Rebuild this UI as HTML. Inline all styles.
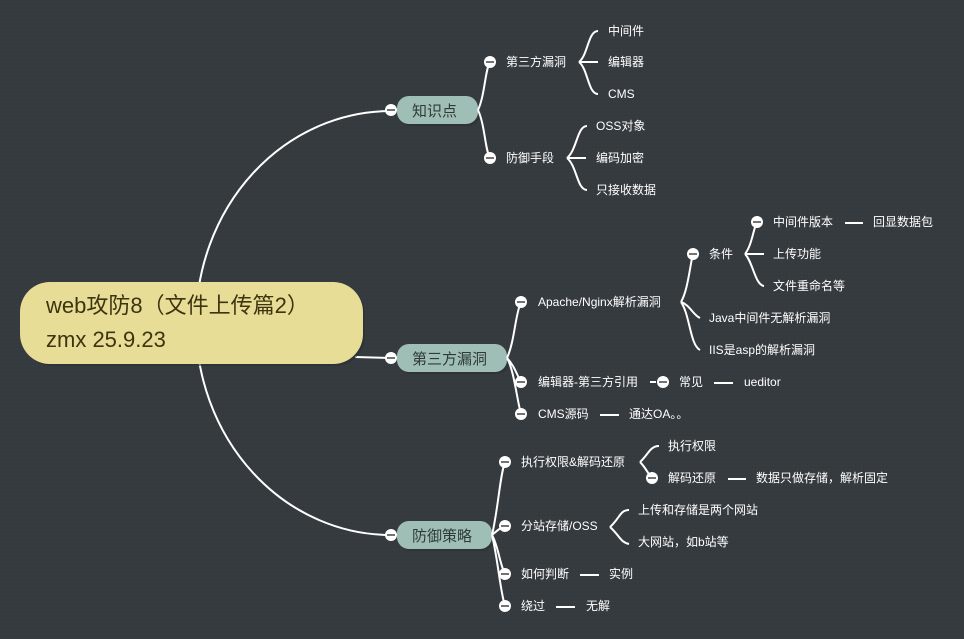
<!DOCTYPE html>
<html><head><meta charset="utf-8"><style>
html,body{margin:0;padding:0;background:#353a3f;}
svg{display:block}
text{font-family:"Liberation Sans","Noto Sans CJK SC",sans-serif;}
.t{fill:#fff;font-size:12px;}
.m{fill:#2f3a36;font-size:15px;}
.l{fill:none;stroke:#fff;stroke-width:2;}
</style></head><body>
<svg width="964" height="639" viewBox="0 0 964 639" xmlns="http://www.w3.org/2000/svg">
<defs>
<pattern id="d" width="4" height="4" patternUnits="userSpaceOnUse"><rect width="4" height="4" fill="#353a3f"/><rect x="1" y="1" width="1" height="1" fill="#3d4246"/></pattern>
<g id="c"><circle r="6" fill="#fff"/><line x1="-4" y1="0" x2="4" y2="0" stroke="#444" stroke-width="1.5"/></g>
</defs>
<rect width="964" height="639" fill="url(#d)"/>
<!-- main arc -->
<path class="l" d="M391 111 A195 212 0 0 0 391 535"/>
<path class="l" d="M355 357 L391 358" stroke-width="3"/>
<!-- root -->
<rect x="22" y="284" width="343" height="82" rx="30" fill="#2a2e30" opacity="0.6"/>
<rect x="20" y="282" width="343" height="82" rx="30" fill="#e8dd97"/>
<text x="46" y="313" font-size="22" fill="#3d3410">web攻防8（文件上传篇2）</text>
<text x="46" y="347" font-size="22" fill="#3d3410">zmx 25.9.23</text>
<!-- main nodes -->
<rect x="399" y="98" width="81" height="28" rx="12" fill="#2a2e30" opacity="0.6"/>
<rect x="397" y="96" width="81" height="28" rx="12" fill="#9fbfb6"/>
<text x="412" y="116" class="m">知识点</text>
<rect x="399" y="346" width="110" height="28" rx="12" fill="#2a2e30" opacity="0.6"/>
<rect x="397" y="344" width="110" height="28" rx="12" fill="#9fbfb6"/>
<text x="412" y="364" class="m">第三方漏洞</text>
<rect x="399" y="523" width="95" height="28" rx="12" fill="#2a2e30" opacity="0.6"/>
<rect x="397" y="521" width="95" height="28" rx="12" fill="#9fbfb6"/>
<text x="412" y="541" class="m">防御策略</text>
<use href="#c" x="391" y="110"/><use href="#c" x="391" y="358"/><use href="#c" x="391" y="535"/>

<!-- 知识点 branch -->
<path class="l" d="M478 110 C485 95 485 70 490 62 M478 110 C485 125 485 150 490 158"/>
<use href="#c" x="490" y="62"/><use href="#c" x="490" y="158"/>
<text x="506" y="66" class="t">第三方漏洞</text>
<text x="506" y="162" class="t">防御手段</text>
<path class="l" d="M579 62 C588 55 588 31 598 31 M579 62 L598 62 M579 62 C588 69 588 94 598 94"/>
<text x="608" y="35" class="t">中间件</text><text x="608" y="66" class="t">编辑器</text><text x="608" y="98" class="t">CMS</text>
<path class="l" d="M567 158 C577 150 577 126 587 126 M567 158 L586 158 M567 158 C577 166 577 190 587 190"/>
<text x="596" y="130" class="t">OSS对象</text><text x="596" y="162" class="t">编码加密</text><text x="596" y="194" class="t">只接收数据</text>

<!-- 第三方漏洞 branch -->
<path class="l" d="M507 358 C515 340 515 315 521 302 M507 358 C514 365 517 375 521 382 M507 358 C514 370 517 400 521 414"/>
<use href="#c" x="521" y="302"/><use href="#c" x="521" y="382"/><use href="#c" x="521" y="414"/>
<text x="538" y="306" class="t">Apache/Nginx解析漏洞</text>
<text x="538" y="386" class="t">编辑器-第三方引用</text>
<text x="538" y="418" class="t">CMS源码</text>
<path class="l" d="M681 302 C688 290 690 265 693 254 M681 302 C690 305 693 315 700 318 M681 302 C690 315 690 345 700 350"/>
<use href="#c" x="693" y="254"/>
<text x="709" y="258" class="t">条件</text>
<text x="709" y="322" class="t">Java中间件无解析漏洞</text>
<text x="709" y="354" class="t">IIS是asp的解析漏洞</text>
<path class="l" d="M745 254 C752 245 753 230 757 222 M745 254 L764 254 M745 254 C753 262 755 285 764 286"/>
<use href="#c" x="757" y="222"/>
<text x="773" y="226" class="t">中间件版本</text><text x="773" y="258" class="t">上传功能</text><text x="773" y="290" class="t">文件重命名等</text>
<path class="l" d="M845 223 L863 223"/><text x="873" y="226" class="t">回显数据包</text>
<path class="l" d="M650 382 L656 382"/><use href="#c" x="663" y="382"/>
<text x="679" y="386" class="t">常见</text>
<path class="l" d="M714 383 L733 383"/><text x="744" y="386" class="t">ueditor</text>
<path class="l" d="M600 415 L619 415"/><text x="629" y="418" class="t">通达OA。。</text>

<!-- 防御策略 branch -->
<path class="l" d="M492 535 C498 510 500 475 505 462 M492 535 C498 530 500 528 505 526 M492 535 C498 545 500 565 505 574 M492 535 C498 560 500 590 505 606"/>
<use href="#c" x="505" y="462"/><use href="#c" x="505" y="526"/><use href="#c" x="505" y="574"/><use href="#c" x="505" y="606"/>
<text x="521" y="466" class="t">执行权限&amp;解码还原</text>
<text x="521" y="530" class="t">分站存储/OSS</text>
<text x="521" y="578" class="t">如何判断</text>
<text x="521" y="610" class="t">绕过</text>
<path class="l" d="M640 462 C648 455 650 446 659 446 M640 462 C646 468 648 474 652 478"/>
<use href="#c" x="652" y="478"/>
<text x="668" y="450" class="t">执行权限</text><text x="668" y="482" class="t">解码还原</text>
<path class="l" d="M728 479 L746 479"/><text x="756" y="482" class="t">数据只做存储，解析固定</text>
<path class="l" d="M610 527 C620 518 620 510 629 510 M610 527 C620 536 620 542 629 544"/>
<text x="638" y="514" class="t">上传和存储是两个网站</text><text x="638" y="546" class="t">大网站，如b站等</text>
<path class="l" d="M580 575 L599 575"/><text x="609" y="578" class="t">实例</text>
<path class="l" d="M556 607 L575 607"/><text x="586" y="610" class="t">无解</text>
</svg>
</body></html>
